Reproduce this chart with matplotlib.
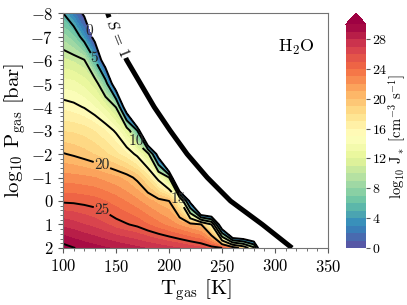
import numpy as np
import matplotlib
matplotlib.use("Agg")
import matplotlib.pyplot as plt

plt.rcParams['font.family'] = 'serif'
plt.rcParams['font.serif'] = ['cmr10']
plt.rcParams['mathtext.fontset'] = 'cm'
plt.rcParams['axes.formatter.use_mathtext'] = True
plt.rcParams['axes.unicode_minus'] = True

# ---- data ----
T_gas = [100, 110, 120, 130, 140, 150, 160, 170, 180, 190, 200,
         210, 220, 230, 240, 250, 260, 270, 280, 290, 300]
logP_gas = [-8, -7, -6, -5, -4, -3, -2, -1, 0, 1, 2]

# log10 J* at each T_gas node, one list per pressure row
J_Pm8 = [5.0, 2.2, -0.6, -30, -30, -30, -30, -30, -30, -30, -30,
         -30, -30, -30, -30, -30, -30, -30, -30, -30, -30]
J_Pm7 = [8.5, 7.2, 3.5, -1.5, -30, -30, -30, -30, -30, -30, -30,
         -30, -30, -30, -30, -30, -30, -30, -30, -30, -30]
J_Pm6 = [11.2, 10.8, 10.1, 5.0, -3.3, -30, -30, -30, -30, -30, -30,
         -30, -30, -30, -30, -30, -30, -30, -30, -30, -30]
J_Pm5 = [13.5, 13.3, 12.6, 11.4, 6.7, -4.4, -30, -30, -30, -30, -30,
         -30, -30, -30, -30, -30, -30, -30, -30, -30, -30]
J_Pm4 = [15.7, 15.4, 14.9, 14.0, 12.6, 9.9, -4.3, -30, -30, -30, -30,
         -30, -30, -30, -30, -30, -30, -30, -30, -30, -30]
J_Pm3 = [17.9, 17.8, 17.5, 16.9, 16.0, 14.7, 12.1, 5.0, -20, -30, -30,
         -30, -30, -30, -30, -30, -30, -30, -30, -30, -30]
J_Pm2 = [20.1, 19.8, 19.4, 18.9, 18.2, 17.3, 16.2, 14.5, 11.3, -2.8, -30,
         -30, -30, -30, -30, -30, -30, -30, -30, -30, -30]
J_Pm1 = [22.4, 22.35, 22.2, 22.0, 21.6, 21.2, 20.6, 19.6, 17.5, 14.2, 10.0,
         -23, -30, -30, -30, -30, -30, -30, -30, -30, -30]
J_P0 = [24.8, 24.75, 24.6, 24.4, 24.0, 23.5, 22.9, 22.2, 21.4, 20.6, 20.0,
        15.8, -1.8, -30, -30, -30, -30, -30, -30, -30, -30]
J_P1 = [27.7, 27.4, 27.0, 26.6, 26.1, 25.5, 25.1, 24.7, 24.0, 23.3, 22.6,
        21.8, 21.0, 20.2, 15.0, -6.4, -30, -30, -30, -30, -30]
J_P2 = [30.5, 30.05, 29.7, 29.4, 29.1, 28.8, 28.5, 28.2, 27.9, 27.6, 27.3,
        27.0, 26.6, 26.2, 25.7, 25.0, 22.1, 18.5, 11.3, -17, -30]

# supersaturation S = 1 curve
S1_T = [142, 150, 160, 173, 186, 201, 217, 236, 258, 288, 316]
S1_P = [-8, -7, -6, -5, -4, -3, -2, -1, 0, 1, 2]

fill_levels = list(range(0, 31))
line_levels = [0, 5, 10, 15, 20, 25, 30]
cbar_ticks = [0, 4, 8, 12, 16, 20, 24, 28]
x_ticks = [100, 150, 200, 250, 300, 350]
y_ticks = [-8, -7, -6, -5, -4, -3, -2, -1, 0, 1, 2]

label_spots = {0: (123, -7.2), 5: (130, -6.1), 10: (170, -2.6),
               15: (210, -0.17), 20: (137, -1.6), 25: (135, 0.65)}

# ---- figure ----
J = np.array([J_Pm8, J_Pm7, J_Pm6, J_Pm5, J_Pm4, J_Pm3, J_Pm2,
              J_Pm1, J_P0, J_P1, J_P2])

fig = plt.figure(figsize=(4.07, 3.05), dpi=100)
ax = fig.add_axes([0.155, 0.187, 0.651, 0.770])
cax = fig.add_axes([0.850, 0.187, 0.049, 0.770])

cf = ax.contourf(T_gas, logP_gas, J, levels=fill_levels, cmap='Spectral_r',
                 extend='max')
for lev in line_levels:
    cs = ax.contour(T_gas, logP_gas, J, levels=[lev], colors='k',
                    linewidths=1.4)
    if lev in label_spots:
        txts = ax.clabel(cs, manual=[label_spots[lev]], fmt='%d',
                         fontsize=11, inline=True, inline_spacing=3)
        for t in txts:
            t.set_rotation(0)
            t.set_color('0.15')

ax.plot(S1_T, S1_P, color='k', lw=3.6, solid_capstyle='butt')
ax.text(151, -6.95, r'$S\,=\,1$', rotation=-68, ha='center', va='center',
        fontsize=11, bbox=dict(facecolor='white', edgecolor='none', pad=1.5),
        zorder=5)

ax.text(0.88, 0.855, r'H$_2$O', transform=ax.transAxes, ha='center',
        va='center', fontsize=13)

ax.set_xlim(100, 350)
ax.set_ylim(2, -8)
ax.set_xticks(x_ticks)
ax.set_yticks(y_ticks)
ax.minorticks_on()
ax.tick_params(labelsize=12, color='0.35', which='both')
for s in ax.spines.values():
    s.set_color('0.45')
ax.set_xlabel(r'T$_{\rm gas}$ [K]', fontsize=15, labelpad=2)
ax.set_ylabel(r'log$_{10}$ P$_{\rm gas}$ [bar]', fontsize=15, labelpad=2)

cb = fig.colorbar(cf, cax=cax, ticks=cbar_ticks)
cb.outline.set_visible(False)
cb.ax.tick_params(labelsize=10, color='0.35', length=3, pad=1.5)
cb.set_label(r'log$_{10}$ J$_*$ [cm$^{-3}$ s$^{-1}$]', fontsize=10.5,
             labelpad=-1)

fig.savefig('out.png', dpi=100)
